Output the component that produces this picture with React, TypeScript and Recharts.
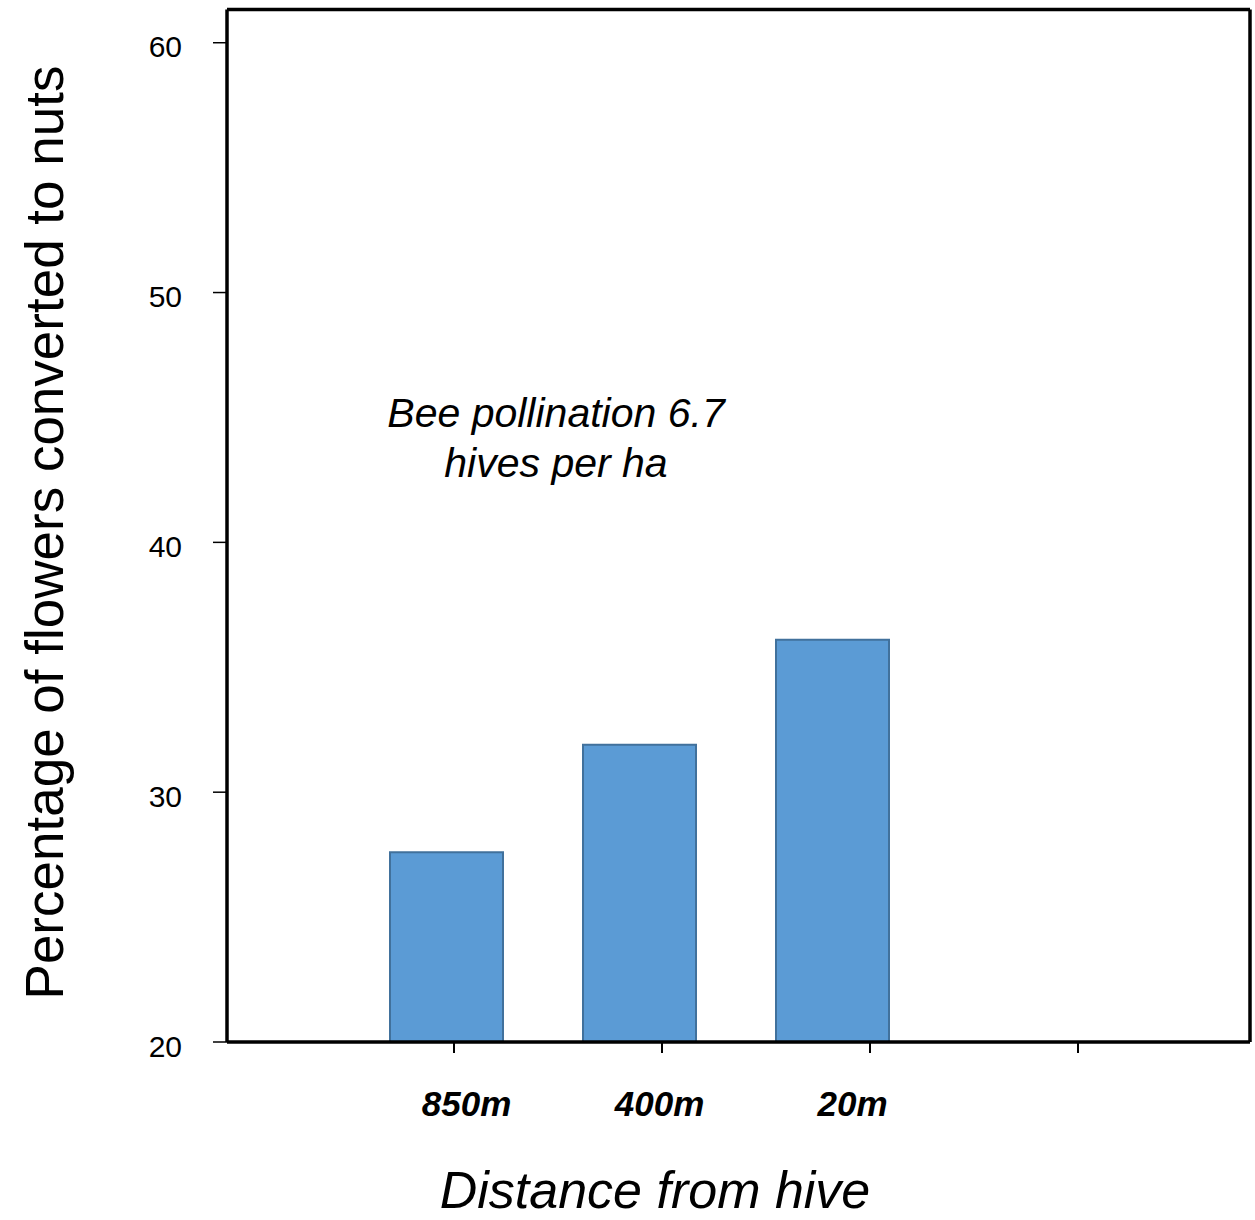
import React from 'react';
import { BarChart, Bar, XAxis, YAxis } from 'recharts';

const categories = ['850m', '400m', '20m', ''];
const values: (number | null)[] = [27.6, 31.9, 36.1, null];
const yTicks = [20, 30, 40, 50, 60];
const yDomain: [number, number] = [20, 61.33];
const yTitle = 'Percentage of flowers converted to nuts';
const xTitle = 'Distance from hive';
const noteLines = ['Bee pollination 6.7', 'hives per ha'];

const data = categories.map((c, i) => ({ category: c, value: values[i] }));

const FONT = '"Liberation Sans", Arial, sans-serif';

const CatTick = (props: any) => {
  const { x, y, payload } = props;
  if (!payload || !payload.value) return <g />;
  return (
    <text
      x={x + 20}
      y={y + 74}
      textAnchor="middle"
      fontFamily={FONT}
      fontSize={35}
      fontWeight="bold"
      fontStyle="italic"
      fill="#000"
    >
      {payload.value}
    </text>
  );
};

const YTick = (props: any) => {
  const { x, y, payload } = props;
  return (
    <text
      x={x}
      y={y + 4}
      textAnchor="end"
      dominantBaseline="central"
      fontFamily={FONT}
      fontSize={30}
      fill="#000"
    >
      {payload.value}
    </text>
  );
};

export default function App() {
  return (
    <div style={{ position: 'absolute', left: 0, top: 0, width: 1255, height: 1220, background: '#fff' }}>
      <BarChart
        width={1255}
        height={1220}
        data={data}
        margin={{ top: 8.5, right: 4, bottom: 176, left: 0 }}
      >
        <XAxis
          xAxisId="bars"
          dataKey="category"
          type="category"
          interval={0}
          height={1}
          padding={{ left: 123, right: 128 }}
          axisLine={{ stroke: '#000', strokeWidth: 3.5 }}
          tickLine={false}
          tickSize={0}
          tickMargin={0}
          tick={<CatTick />}
        />
        <XAxis
          xAxisId="ticks"
          dataKey="category"
          type="category"
          interval={0}
          height={1}
          padding={{ left: 123, right: 68 }}
          axisLine={false}
          tickLine={{ stroke: '#000', strokeWidth: 2 }}
          tickSize={10}
          tickFormatter={() => ''}
        />
        <XAxis
          xAxisId="top"
          orientation="top"
          dataKey="category"
          height={1}
          tick={false}
          tickLine={false}
          axisLine={{ stroke: '#000', strokeWidth: 3.5 }}
        />
        <YAxis
          yAxisId="v"
          width={227}
          domain={yDomain}
          ticks={yTicks}
          allowDataOverflow
          interval={0}
          tickSize={14}
          tickMargin={31}
          tickLine={{ stroke: '#000', strokeWidth: 1.5 }}
          axisLine={{ stroke: '#000', strokeWidth: 3.5 }}
          tick={<YTick />}
        />
        <YAxis
          yAxisId="right"
          orientation="right"
          width={1}
          domain={yDomain}
          allowDataOverflow
          tick={false}
          tickLine={false}
          axisLine={{ stroke: '#000', strokeWidth: 3.5 }}
        />
        <Bar
          xAxisId="bars"
          yAxisId="v"
          dataKey="value"
          fill="#5B9BD5"
          stroke="#41719C"
          strokeWidth={2}
          barSize={113}
          isAnimationActive={false}
        />
      </BarChart>
      <svg
        width={1255}
        height={1220}
        style={{ position: 'absolute', left: 0, top: 0, pointerEvents: 'none' }}
      >
        <text
          transform="translate(63,532.5) rotate(-90)"
          textAnchor="middle"
          fontFamily={FONT}
          fontSize={53}
          fill="#000"
        >
          {yTitle}
        </text>
        <text
          x={655}
          y={1208}
          textAnchor="middle"
          fontFamily={FONT}
          fontSize={52}
          fontStyle="italic"
          fill="#000"
        >
          {xTitle}
        </text>
        {noteLines.map((line, i) => (
          <text
            key={i}
            x={556}
            y={427 + i * 50}
            textAnchor="middle"
            fontFamily={FONT}
            fontSize={41}
            fontStyle="italic"
            fill="#000"
          >
            {line}
          </text>
        ))}
      </svg>
    </div>
  );
}
